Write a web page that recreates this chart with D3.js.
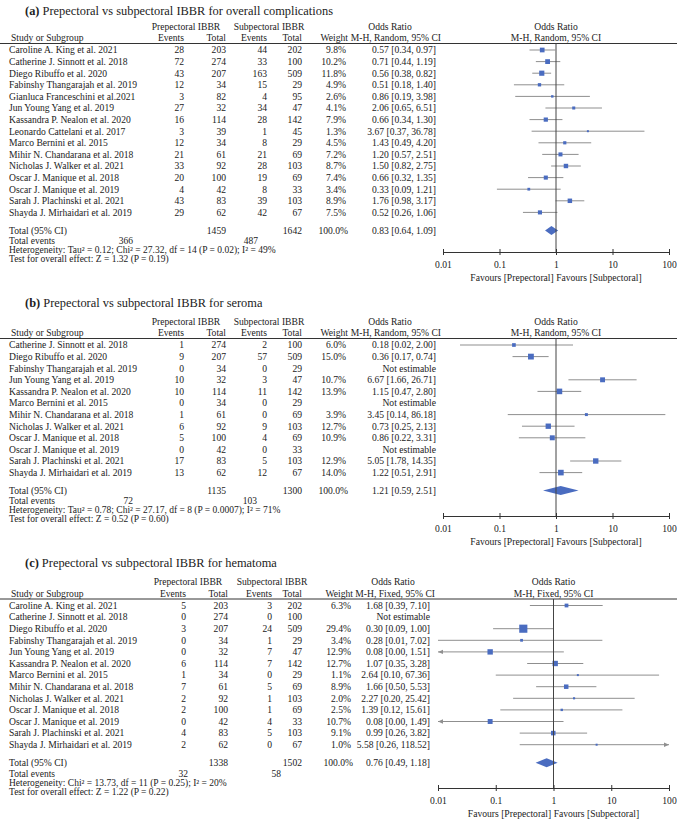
<!DOCTYPE html>
<html>
<head>
<script src="https://d3js.org/d3.v7.min.js"></script>
<style>
body { margin: 0; background: #fff; }
svg text { font-family: "Liberation Serif", "Times New Roman", serif; font-size: 9.6px; fill: #222; }
svg .title { font-size: 12.4px; }
svg .foot { font-size: 9.5px; }
</style>
</head>
<body>
<svg width="677" height="819"></svg>
<script>
// ---- (a) overall complications ----
var aStudies = ["Caroline A. King et al. 2021", "Catherine J. Sinnott et al. 2018", "Diego Ribuffo et al. 2020",
  "Fabinshy Thangarajah et al. 2019", "Gianluca Franceschini et al.2021", "Jun Young Yang et al. 2019",
  "Kassandra P. Nealon et al. 2020", "Leonardo Cattelani et al. 2017", "Marco Bernini et al. 2015",
  "Mihir N. Chandarana et al. 2018", "Nicholas J. Walker et al. 2021", "Oscar J. Manique et al. 2018",
  "Oscar J. Manique et al. 2019", "Sarah J. Plachinski et al. 2021", "Shayda J. Mirhaidari et al. 2019"];
var aPreEvents = [28, 72, 43, 12, 3, 27, 16, 3, 12, 21, 33, 20, 4, 43, 29];
var aPreTotal = [203, 274, 207, 34, 82, 32, 114, 39, 34, 61, 92, 100, 42, 83, 62];
var aSubEvents = [44, 33, 163, 15, 4, 34, 28, 1, 8, 21, 28, 19, 8, 39, 42];
var aSubTotal = [202, 100, 509, 29, 95, 47, 142, 45, 29, 69, 103, 69, 33, 103, 67];
var aWeight = [9.8, 10.2, 11.8, 4.9, 2.6, 4.1, 7.9, 1.3, 4.5, 7.2, 8.7, 7.4, 3.4, 8.9, 7.5];
var aOR = [0.57, 0.71, 0.56, 0.51, 0.86, 2.06, 0.66, 3.67, 1.43, 1.20, 1.50, 0.66, 0.33, 1.76, 0.52];
var aLow = [0.34, 0.44, 0.38, 0.18, 0.19, 0.65, 0.34, 0.37, 0.49, 0.57, 0.82, 0.32, 0.09, 0.98, 0.26];
var aHigh = [0.97, 1.19, 0.82, 1.40, 3.98, 6.51, 1.30, 36.78, 4.20, 2.51, 2.75, 1.35, 1.21, 3.17, 1.06];
var aTotals = [1459, 1642, 366, 487];      // pre total, sub total, pre events, sub events
var aPooled = [0.83, 0.64, 1.09];
var aHet = "Heterogeneity: Tau² = 0.12; Chi² = 27.32, df = 14 (P = 0.02); I² = 49%";
var aTest = "Test for overall effect: Z = 1.32 (P = 0.19)";

// ---- (b) seroma ----
var bStudies = ["Catherine J. Sinnott et al. 2018", "Diego Ribuffo et al. 2020", "Fabinshy Thangarajah et al. 2019",
  "Jun Young Yang et al. 2019", "Kassandra P. Nealon et al. 2020", "Marco Bernini et al. 2015",
  "Mihir N. Chandarana et al. 2018", "Nicholas J. Walker et al. 2021", "Oscar J. Manique et al. 2018",
  "Oscar J. Manique et al. 2019", "Sarah J. Plachinski et al. 2021", "Shayda J. Mirhaidari et al. 2019"];
var bPreEvents = [1, 9, 0, 10, 10, 0, 1, 6, 5, 0, 17, 13];
var bPreTotal = [274, 207, 34, 32, 114, 34, 61, 92, 100, 42, 83, 62];
var bSubEvents = [2, 57, 0, 3, 11, 0, 0, 9, 4, 0, 5, 12];
var bSubTotal = [100, 509, 29, 47, 142, 29, 69, 103, 69, 33, 103, 67];
var bWeight = [6.0, 15.0, null, 10.7, 13.9, null, 3.9, 12.7, 10.9, null, 12.9, 14.0];
var bOR = [0.18, 0.36, null, 6.67, 1.15, null, 3.45, 0.73, 0.86, null, 5.05, 1.22];
var bLow = [0.02, 0.17, null, 1.66, 0.47, null, 0.14, 0.25, 0.22, null, 1.78, 0.51];
var bHigh = [2.00, 0.74, null, 26.71, 2.80, null, 86.18, 2.13, 3.31, null, 14.35, 2.91];
var bTotals = [1135, 1300, 72, 103];
var bPooled = [1.21, 0.59, 2.51];
var bHet = "Heterogeneity: Tau² = 0.78; Chi² = 27.17, df = 8 (P = 0.0007); I² = 71%";
var bTest = "Test for overall effect: Z = 0.52 (P = 0.60)";

// ---- (c) hematoma ----
var cStudies = ["Caroline A. King et al. 2021", "Catherine J. Sinnott et al. 2018", "Diego Ribuffo et al. 2020",
  "Fabinshy Thangarajah et al. 2019", "Jun Young Yang et al. 2019", "Kassandra P. Nealon et al. 2020",
  "Marco Bernini et al. 2015", "Mihir N. Chandarana et al. 2018", "Nicholas J. Walker et al. 2021",
  "Oscar J. Manique et al. 2018", "Oscar J. Manique et al. 2019", "Sarah J. Plachinski et al. 2021",
  "Shayda J. Mirhaidari et al. 2019"];
var cPreEvents = [5, 0, 3, 0, 0, 6, 1, 7, 2, 2, 0, 4, 2];
var cPreTotal = [203, 274, 207, 34, 32, 114, 34, 61, 92, 100, 42, 83, 62];
var cSubEvents = [3, 0, 24, 1, 7, 7, 0, 5, 1, 1, 4, 5, 0];
var cSubTotal = [202, 100, 509, 29, 47, 142, 29, 69, 103, 69, 33, 103, 67];
var cWeight = [6.3, null, 29.4, 3.4, 12.9, 12.7, 1.1, 8.9, 2.0, 2.5, 10.7, 9.1, 1.0];
var cOR = [1.68, null, 0.30, 0.28, 0.08, 1.07, 2.64, 1.66, 2.27, 1.39, 0.08, 0.99, 5.58];
var cLow = [0.39, null, 0.09, 0.01, 0.00, 0.35, 0.10, 0.50, 0.20, 0.12, 0.00, 0.26, 0.26];
var cHigh = [7.10, null, 1.00, 7.02, 1.51, 3.28, 67.36, 5.53, 25.42, 15.61, 1.49, 3.82, 118.52];
var cTotals = [1338, 1502, 32, 58];
var cPooled = [0.76, 0.49, 1.18];
var cHet = "Heterogeneity: Chi² = 13.73, df = 11 (P = 0.25); I² = 20%";
var cTest = "Test for overall effect: Z = 1.22 (P = 0.22)";

var tickValues = [0.01, 0.1, 1, 10, 100];
var tickLabels = ["0.01", "0.1", "1", "10", "100"];

var svg = d3.select("svg");
var f2 = d3.format(".2f");
var blue = "#4a6cc0";

function txt(g, x, y, s, anchor) {
  return g.append("text").attr("x", x).attr("y", y).attr("dy", "0.35em")
    .attr("text-anchor", anchor || "start").text(s);
}

function drawPanel(p) {
  var g = svg.append("g");
  var x = d3.scaleLog().domain([0.01, 100]).range(p.range);
  var c = p.cols;
  var step = 11.6;
  var rowY = function(i) { return p.lineY + 6.5 + i * step; };

  var t = g.append("text").attr("class", "title").attr("x", 25).attr("y", p.titleY).attr("dy", "0.35em");
  t.append("tspan").attr("font-weight", "bold").text("(" + p.letter + ")");
  t.append("tspan").text(" " + p.title);

  var h1 = p.lineY - 17, h2 = p.lineY - 5.5;
  txt(g, p.groups[0], h1, "Prepectoral IBBR", "middle");
  txt(g, p.groups[1], h1, "Subpectoral IBBR", "middle");
  txt(g, p.orHead, h1, "Odds Ratio", "middle");
  txt(g, x(1), h1, "Odds Ratio", "middle");
  txt(g, 11, h2, "Study or Subgroup");
  txt(g, c[0], h2, "Events", "end");
  txt(g, c[1], h2, "Total", "end");
  txt(g, c[2], h2, "Events", "end");
  txt(g, c[3], h2, "Total", "end");
  txt(g, c[4] + 2, h2, "Weight", "end");
  txt(g, c[5] + 5, h2, "M-H, " + p.method + ", 95% CI", "end");
  txt(g, x(1), h2, "M-H, " + p.method + ", 95% CI", "middle");

  g.append("line").attr("x1", 0).attr("x2", 677).attr("y1", p.lineY).attr("y2", p.lineY)
    .attr("stroke", "#333").attr("stroke-width", 1);

  p.studies.forEach(function(name, i) {
    var y = rowY(i);
    txt(g, 9, y, name);
    txt(g, c[0], y, p.preEv[i], "end");
    txt(g, c[1], y, p.preTot[i], "end");
    txt(g, c[2], y, p.subEv[i], "end");
    txt(g, c[3], y, p.subTot[i], "end");
    if (p.or[i] == null) {
      txt(g, c[5], y, "Not estimable", "end");
      return;
    }
    txt(g, c[4], y, p.weight[i].toFixed(1) + "%", "end");
    txt(g, c[5], y, f2(p.or[i]) + " [" + f2(p.lo[i]) + ", " + f2(p.hi[i]) + "]", "end");

    var lo = Math.max(p.lo[i], 0.01), hi = Math.min(p.hi[i], 100);
    g.append("line").attr("x1", x(lo)).attr("x2", x(hi)).attr("y1", y).attr("y2", y)
      .attr("stroke", "#8f8f8f").attr("stroke-width", 1);
    if (p.lo[i] < 0.01) {
      g.append("path").attr("d", "M" + x(0.01) + "," + y + "l5,-2.2v4.4z").attr("fill", "#8f8f8f");
    }
    if (p.hi[i] > 100) {
      g.append("path").attr("d", "M" + x(100) + "," + y + "l-5,-2.2v4.4z").attr("fill", "#8f8f8f");
    }
    var s = Math.max(2, 1.5 * Math.sqrt(p.weight[i]));
    g.append("rect").attr("x", x(p.or[i]) - s / 2).attr("y", y - s / 2)
      .attr("width", s).attr("height", s).attr("fill", blue);
  });

  var yT = rowY(p.studies.length - 1) + 18;
  txt(g, 9, yT, "Total (95% CI)");
  txt(g, c[1], yT, p.totals[0], "end");
  txt(g, c[3], yT, p.totals[1], "end");
  txt(g, c[4] + 2, yT, "100.0%", "end");
  txt(g, c[5], yT, f2(p.pooled[0]) + " [" + f2(p.pooled[1]) + ", " + f2(p.pooled[2]) + "]", "end");
  txt(g, 9, yT + 10.5, "Total events").attr("class", "foot");
  txt(g, p.evX[0], yT + 10.5, p.totals[2], "end").attr("class", "foot");
  txt(g, p.evX[1], yT + 10.5, p.totals[3], "end").attr("class", "foot");
  txt(g, 9, yT + 19.5, p.het).attr("class", "foot");
  txt(g, 9, yT + 28.5, p.test).attr("class", "foot");

  g.append("path")
    .attr("d", "M" + x(p.pooled[1]) + "," + yT + "L" + x(p.pooled[0]) + "," + (yT - 4.5) +
      "L" + x(p.pooled[2]) + "," + yT + "L" + x(p.pooled[0]) + "," + (yT + 4.5) + "Z")
    .attr("fill", blue);

  g.append("line").attr("x1", x(1)).attr("x2", x(1)).attr("y1", p.lineY).attr("y2", p.axisY)
    .attr("stroke", "#444").attr("stroke-width", 1);

  var ax = g.append("g").attr("transform", "translate(0," + p.axisY + ")")
    .call(d3.axisBottom(x).tickValues(tickValues)
      .tickFormat(function(d, i) { return tickLabels[i]; })
      .tickSizeOuter(0).tickSize(3).tickPadding(6));
  ax.attr("font-family", null).attr("font-size", null);
  ax.select(".domain").attr("stroke", "#333");
  ax.selectAll(".tick line").attr("y1", -3).attr("y2", 3).attr("stroke", "#333");
  ax.selectAll(".tick text").attr("fill", "#222");

  txt(g, x(1), p.axisY + 26, "Favours [Prepectoral] Favours [Subpectoral]", "middle");
}

drawPanel({
  letter: "a", title: "Prepectoral vs subpectoral IBBR for overall complications", method: "Random",
  titleY: 11, lineY: 43.5, axisY: 252, range: [443, 669],
  cols: [184, 226, 267, 302, 346, 436], groups: [186, 269], orHead: 390, evX: [133, 258],
  studies: aStudies, preEv: aPreEvents, preTot: aPreTotal, subEv: aSubEvents, subTot: aSubTotal,
  weight: aWeight, or: aOR, lo: aLow, hi: aHigh, totals: aTotals, pooled: aPooled, het: aHet, test: aTest
});

drawPanel({
  letter: "b", title: "Prepectoral vs subpectoral IBBR for seroma", method: "Random",
  titleY: 303, lineY: 338.5, axisY: 516, range: [443, 669],
  cols: [184, 226, 267, 302, 346, 436], groups: [186, 269], orHead: 390, evX: [133, 257],
  studies: bStudies, preEv: bPreEvents, preTot: bPreTotal, subEv: bSubEvents, subTot: bSubTotal,
  weight: bWeight, or: bOR, lo: bLow, hi: bHigh, totals: bTotals, pooled: bPooled, het: bHet, test: bTest
});

drawPanel({
  letter: "c", title: "Prepectoral vs subpectoral IBBR for hematoma", method: "Fixed",
  titleY: 563, lineY: 599, axisY: 788, range: [438, 669],
  cols: [186, 228, 272, 302, 351, 430], groups: [188, 272], orHead: 393, evX: [188, 281],
  studies: cStudies, preEv: cPreEvents, preTot: cPreTotal, subEv: cSubEvents, subTot: cSubTotal,
  weight: cWeight, or: cOR, lo: cLow, hi: cHigh, totals: cTotals, pooled: cPooled, het: cHet, test: cTest
});
</script>
</body>
</html>
